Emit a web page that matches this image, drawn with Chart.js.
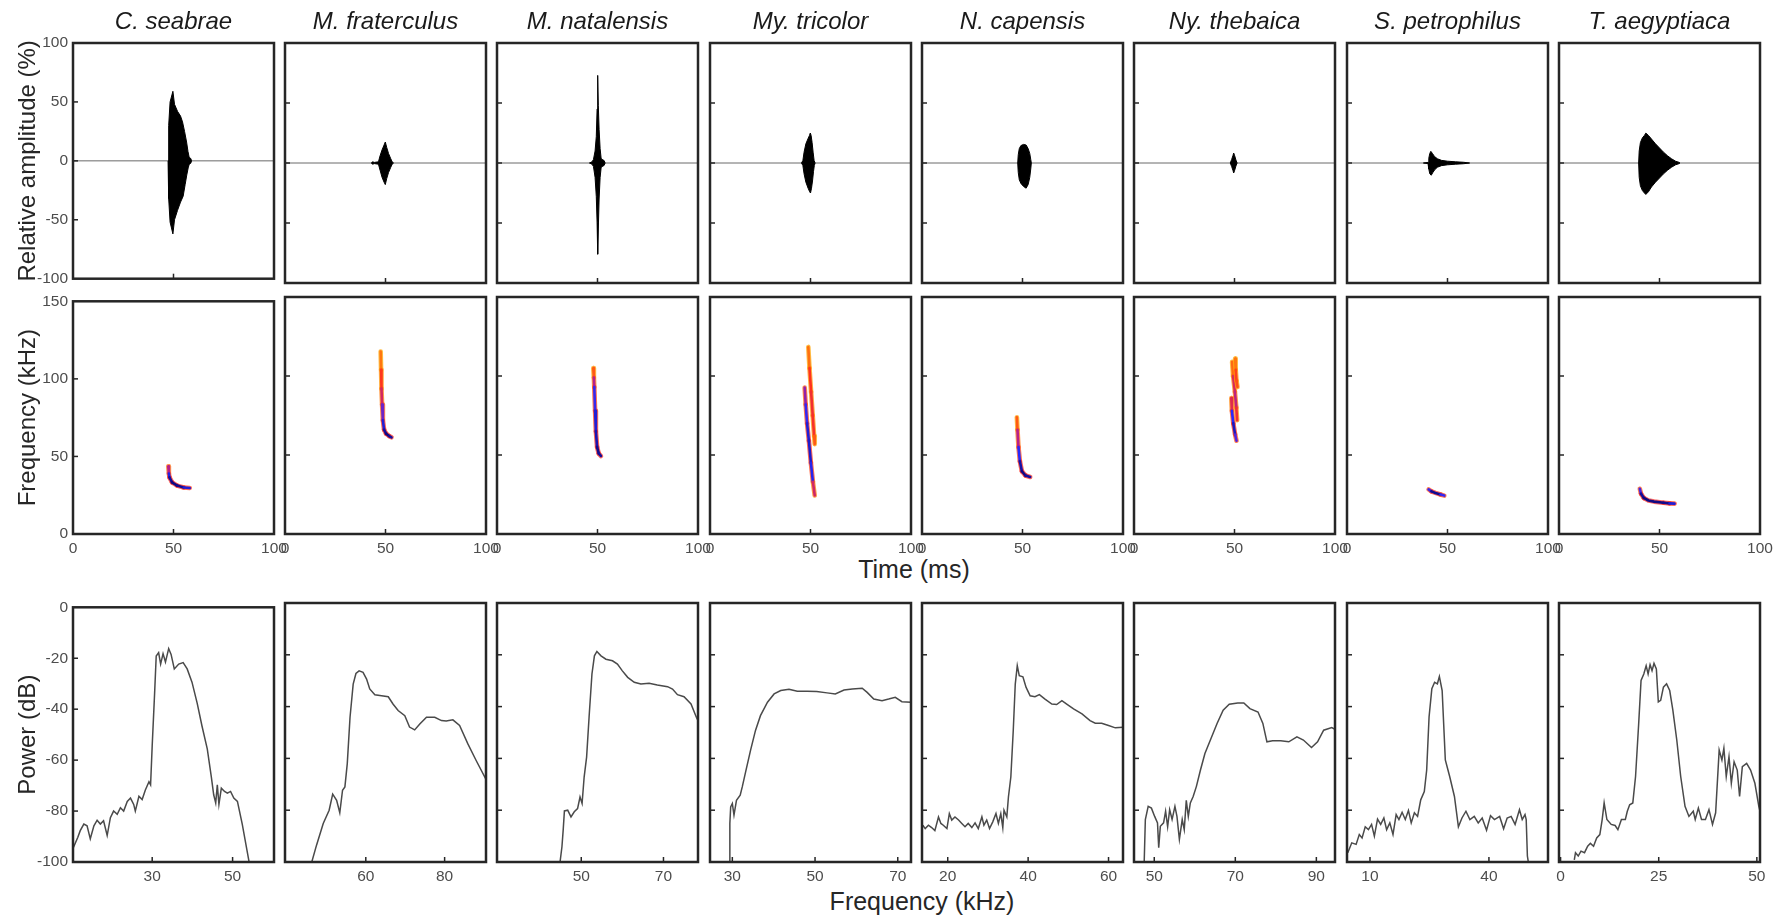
<!DOCTYPE html>
<html>
<head>
<meta charset="utf-8">
<script src="https://cdn.jsdelivr.net/npm/chart.js@4.4.1/dist/chart.umd.min.js"></script>
<style>
  html, body { margin: 0; background: #fff; }
  #fig { position: relative; width: 1774px; height: 918px; overflow: hidden; background: #fff; }
  #fig canvas { position: absolute; }
  .xlabel { position: absolute; font: 25px 'Liberation Sans', Arial, sans-serif; color: #262626;
            transform: translate(-50%, -50%); white-space: nowrap; }
</style>
</head>
<body>
<div id="fig">
  <div class="xlabel" style="left:914px; top:569px">Time (ms)</div>
  <div class="xlabel" style="left:922px; top:901px">Frequency (kHz)</div>
</div>
<script>
const species = ['C. seabrae', 'M. fraterculus', 'M. natalensis', 'My. tricolor',
                 'N. capensis', 'Ny. thebaica', 'S. petrophilus', 'T. aegyptiaca'];

// oscillogram envelopes, [time ms, amplitude %]
const seabraeUp = [[47.3,0],[47.6,30],[48.3,50],[49.7,59],[50.5,48],[52,42],[53.5,38],[54.5,33],[55.5,25],[56.5,16],[57.2,8],[57.8,3],[58.6,2],[59,0]];
const seabraeLo = [[47.3,0],[47.6,-32],[48.3,-52],[49.7,-62],[50.5,-50],[52,-42],[53.5,-35],[54.8,-30],[55.8,-20],[56.6,-12],[57.3,-6],[57.8,-3],[58.6,-2],[59,0]];
const fraterculusUp = [[43,0],[43.5,1],[44.5,0.5],[46.5,1],[47.3,6],[48.3,11],[49.3,15],[49.9,17.5],[50.6,13],[51.5,8],[52.5,4],[53.3,1],[54,0]];
const fraterculusLo = [[43,0],[43.5,-1],[44.5,-0.5],[46.5,-1],[47.3,-6],[48.3,-12],[49.3,-16],[49.9,-18],[50.6,-13],[51.5,-8],[52.5,-4],[53.3,-1],[54,0]];
const natalensisUp = [[46,0],[47.3,1],[48,3],[48.8,10],[49.4,22],[49.8,45],[50.1,73],[50.4,48],[50.8,28],[51.3,12],[51.8,4],[52.3,3],[53.3,2],[53.8,0]];
const natalensisLo = [[46,0],[47.3,-1],[48,-3],[48.8,-12],[49.4,-28],[49.8,-50],[50.1,-76],[50.4,-55],[50.8,-30],[51.3,-12],[51.8,-4],[52.3,-3],[53.3,-2],[53.8,0]];
const tricolorUp = [[45.5,0],[46.2,2],[46.8,9],[47.7,16],[48.7,20],[49.5,23],[49.9,25],[50.3,23],[50.8,17],[51.3,9],[51.8,2],[52.3,0]];
const tricolorLo = [[45.5,0],[46.2,-2],[46.8,-9],[47.7,-16],[48.8,-21],[49.6,-24],[50,-25],[50.5,-21],[51,-15],[51.5,-7],[51.9,-2],[52.3,0]];
const capensisUp = [[47.6,0],[47.9,7],[48.4,12],[49.2,14.5],[50.5,15.5],[51.8,15],[52.8,12],[53.6,8],[54.1,3],[54.4,0]];
const capensisLo = [[47.6,0],[47.9,-8],[48.4,-14],[49.2,-17],[50.5,-19.5],[51.8,-21],[52.8,-18],[53.6,-12],[54.1,-5],[54.4,0]];
const thebaicaUp = [[47.9,0],[48.6,3],[49.2,6],[49.6,8.3],[50.1,6],[50.7,2.5],[51.3,0]];
const thebaicaLo = [[47.9,0],[48.6,-3],[49.2,-6],[49.6,-8.3],[50.1,-6],[50.7,-2.5],[51.3,0]];
const petrophilusUp = [[38,0],[40.3,0.5],[40.7,4],[41.2,8],[41.7,9.7],[42.5,8],[43.5,5.5],[45,3.5],[47,2.2],[50,1.5],[54,1],[58,0.6],[61,0]];
const petrophilusLo = [[38,0],[40.3,-0.5],[40.7,-5],[41.2,-9],[41.9,-10.2],[42.7,-8],[43.7,-5.5],[45,-3.5],[47,-2.2],[50,-1.5],[54,-1],[58,-0.6],[61,0]];
const aegyptiacaUp = [[39.6,0],[39.9,10],[40.5,17],[41.5,21],[42.5,23],[43.2,24.9],[44.5,23],[46,20],[48,16],[50,12.5],[52,9],[54,6],[56,3.5],[58,1.5],[59.8,0.5],[60.2,0]];
const aegyptiacaLo = [[39.6,0],[39.9,-12],[40.5,-19],[41.5,-23],[42.5,-25],[43.2,-26.2],[44.5,-24],[46,-20],[48,-16],[50,-12.5],[52,-9],[54,-6],[56,-3.5],[58,-1.5],[59.8,-0.5],[60.2,0]];
const baseline = [[0,0],[100,0]];

// spectrogram traces, [time ms, frequency kHz, relative energy 0..1]
const seabraeTracks = [[[47.4,43.6,0.75],[47.7,39,0.3],[48,36.5,0.1],[49.3,33.3,0],[51.8,31.2,0],[55.1,30,0.05],[58.1,29.7,0.3]]];
const fraterculusTracks = [[[47.6,115.5,0.95],[47.8,104,0.8],[48,92,0.72],[48.3,82,0.5],[48.7,72,0.25],[49.3,66,0.1],[50.3,63.5,0],[51.8,62,0],[53,61.2,0.1]]];
const natalensisTracks = [[[47.9,105,0.95],[48.2,99,0.7],[48.4,93,0.35],[48.8,78,0.2],[49.2,65,0.15],[49.8,55,0.05],[50.6,51,0],[51.7,49.4,0.1]]];
const tricolorTracks = [
  [[47.1,92.7,0.55],[47.6,82,0.35],[48.3,70,0.2],[49.2,59,0.15],[50.2,45,0.15],[51.2,33,0.3],[52.1,24.4,0.9]],
  [[48.9,118.4,0.95],[49.5,105,0.78],[50.3,90,0.72],[51.1,75,0.7],[51.8,62,0.75],[52.1,56.9,0.9]]
];
const capensisTracks = [[[47.2,73.9,0.95],[47.5,66,0.7],[48,55,0.35],[48.7,46,0.15],[49.7,39.7,0],[51.5,37,0],[53.8,36.1,0.1]]];
const thebaicaTracks = [
  [[50.3,111,0.95],[50.6,104,0.8],[51,97,0.75],[51.5,93,0.85]],
  [[48.8,109,0.95],[49.3,100,0.75],[50.2,90,0.5],[50.9,80,0.6],[51.3,72,0.8]],
  [[48.4,86,0.9],[48.7,78,0.4],[49.4,70,0.1],[50.3,63,0.15],[51,59,0.5]]
];
const petrophilusTracks = [[[40.6,28.2,0.5],[42,27,0.05],[44,26,0],[46.5,25,0.05],[48.4,24.3,0.5]]];
const aegyptiacaTracks = [[[40.2,28.6,0.5],[40.8,25.5,0.1],[42.2,22.8,0],[44.5,21.2,0],[47.3,20.5,0],[52,19.8,0],[55,19.4,0.05],[57.5,19.2,0.3]]];

// power spectra, [frequency kHz, dB]
const seabraeSpec = [[10.3,-94.7],[11.5,-90.3],[12.1,-87.7],[13,-85.1],[13.8,-85.8],[14.6,-90.9],[15.5,-85.8],[16.3,-83.6],[17.1,-85.1],[17.9,-83.8],[18.8,-89.6],[19.6,-82.6],[20.4,-80],[21.3,-81.3],[22.1,-78.7],[22.9,-80],[23.8,-76.2],[24.6,-74.9],[25.4,-77.4],[25.8,-80],[26.7,-74.2],[27.5,-75.5],[28.3,-71.7],[29.2,-68.5],[29.6,-69.7],[30,-54.4],[30.6,-33.8],[31,-19.1],[31.6,-17.8],[32.1,-22.3],[32.7,-18.2],[33.3,-21.5],[34.1,-16.2],[34.7,-18.5],[35.5,-24.2],[36.6,-22.3],[37.7,-21.7],[38.7,-24.2],[39.9,-29.4],[41.2,-37.7],[42.4,-46.7],[43.7,-55.6],[44.7,-66.5],[45.3,-73.6],[45.8,-76.8],[46.2,-69.7],[46.6,-77.4],[47.2,-71],[48,-72.3],[48.7,-73],[49.5,-72.3],[50.3,-74.9],[51.2,-76.2],[52.4,-85.1],[54.1,-99.9],[54.4,-104]];
const fraterculusSpec = [[46.2,-100.5],[47.5,-93.5],[49.2,-85.1],[50.7,-80],[51.6,-73.8],[52.6,-76.2],[53.4,-81],[54.1,-72.3],[54.7,-71],[55.3,-62],[56,-44.1],[56.8,-31.3],[57.5,-27.2],[58.3,-26.2],[59.3,-26.8],[60.2,-29.4],[61,-33.2],[62.3,-35.4],[64,-35.8],[65.7,-36.2],[66.9,-39],[68.2,-41.5],[69.9,-43.5],[71.1,-47.9],[72.4,-49],[73.7,-46.7],[75.4,-44.1],[77.5,-44.1],[79.2,-45.4],[80.4,-45.6],[82.1,-45.1],[83.8,-47.3],[85.9,-54.4],[88,-60.8],[90.4,-67.8],[91,-69]];
const natalensisSpec = [[44.8,-100.5],[45.3,-94.1],[45.6,-87.7],[45.9,-80.3],[46.7,-80],[47.5,-82.6],[48.3,-80.6],[49.1,-79.4],[49.7,-74.9],[50.2,-77.4],[50.7,-67.2],[51.3,-59.5],[51.9,-44.1],[52.6,-27.4],[53.2,-20.4],[53.8,-18.7],[54.8,-20.4],[56,-21.7],[57.6,-22.3],[58.8,-23.6],[60,-26.2],[61.3,-28.7],[62.9,-30.6],[64.5,-31.3],[66.5,-31],[68.5,-31.7],[71,-32.3],[72.2,-33.2],[73.4,-35.4],[75,-36.2],[76.7,-39],[78,-44.1],[78.6,-46]];
const tricolorSpec = [[29.4,-100.5],[29.4,-85.1],[29.6,-78.7],[30,-77.4],[30.4,-81.9],[31,-76.2],[31.9,-74.2],[32.4,-71],[33.2,-65.3],[34.4,-56.9],[35.6,-49.2],[36.8,-43.5],[38.5,-38.3],[40.1,-35.1],[41.7,-33.8],[43.7,-33.3],[45.7,-34.1],[48.1,-34.1],[50.4,-34.2],[52.9,-34.7],[54.9,-35.1],[57,-33.6],[59,-33.2],[61.4,-32.9],[62.6,-34.5],[64.2,-37.1],[66.2,-37.7],[67.8,-37.1],[69.4,-36.4],[71,-38.1],[73.3,-38.3]];
const capensisSpec = [[13.8,-85.8],[14.4,-87.1],[15.2,-85.8],[16,-86.7],[16.8,-87.9],[17.7,-82.6],[18.3,-85.1],[18.9,-85.8],[19.8,-87.1],[20.4,-81.3],[21,-83.8],[21.8,-82.6],[22.7,-83.8],[23.5,-85.1],[24.3,-86.4],[25.1,-85.1],[26,-86.7],[26.8,-84.9],[27.6,-87.1],[28.5,-82.6],[29,-85.8],[29.7,-83.8],[30.4,-87.1],[31.2,-84.5],[32,-81.3],[32.6,-85.1],[33.2,-81.3],[33.7,-86.7],[34,-80],[34.7,-82.6],[35.1,-74.9],[35.7,-67.2],[36.3,-49.2],[36.8,-31.3],[37.3,-24.2],[37.8,-28.1],[38.7,-28.5],[39.5,-32.6],[40.5,-35.8],[41.7,-36.2],[42.8,-35.4],[44.2,-37.1],[45.9,-39],[47.1,-39.2],[48.4,-37.7],[49.6,-39],[51.3,-40.9],[53.4,-42.8],[55.4,-45.4],[56.7,-46.4],[58.3,-46.4],[60,-47.3],[61.7,-48.2],[63.6,-48]];
const thebaicaSpec = [[47.5,-101],[47.8,-83.6],[48.5,-78.5],[49.3,-79.2],[50.1,-82.4],[50.8,-84.9],[51.1,-94.5],[51.5,-86.2],[52.3,-84.9],[52.8,-80.4],[53.3,-86.4],[53.8,-79.8],[54.4,-83.6],[55.1,-78.5],[55.6,-82.4],[56.2,-91.3],[56.9,-83.6],[57.4,-87.5],[57.9,-76.2],[58.4,-82.4],[58.9,-77.2],[59.6,-74.7],[60.4,-70.8],[61.4,-64.5],[62.5,-58.1],[64,-52.3],[65.5,-46.5],[67,-41.4],[68.5,-39.1],[70.6,-38.6],[72.1,-38.6],[73.6,-40.8],[75.6,-42.1],[76.8,-46.5],[77.8,-53.6],[79.2,-53.2],[81.2,-53.2],[83.2,-53.6],[85.2,-51.7],[86.8,-52.9],[88.8,-55.8],[90.3,-53.6],[91.8,-49.1],[93.8,-48.1],[94.6,-48.8]];
const petrophilusSpec = [[4.4,-96.4],[5.4,-92.6],[6.5,-93.2],[7.3,-89.4],[8,-90.7],[8.8,-86.4],[9.6,-87.5],[10.4,-85.5],[11.1,-90],[11.9,-83.4],[12.7,-85.5],[13.5,-83],[14.2,-87.5],[15,-84.9],[15.8,-89.4],[16.6,-81.7],[17.3,-83.6],[18.1,-80.8],[18.9,-83.6],[19.7,-80.1],[20.4,-84.9],[21.2,-81],[22,-82.4],[22.8,-76],[23.7,-72.8],[24.3,-64.5],[24.9,-44],[25.6,-33.1],[26.3,-30.6],[27,-31.2],[27.5,-28.4],[28.2,-33.8],[29,-60.6],[30.1,-67],[31.3,-74.7],[32.3,-86.4],[33.2,-83],[34.2,-80.4],[35.2,-83.6],[36.3,-82.4],[37.3,-84.9],[38.3,-83],[39.4,-87.7],[40.4,-82.1],[41.4,-83.6],[42.7,-82.4],[43.7,-87.2],[44.6,-83],[45.6,-82.4],[46.6,-85.5],[47.7,-79.8],[48.4,-83.6],[49.1,-81.7],[49.4,-83.6],[49.7,-97.7],[50.1,-101.5]];
const aegyptiacaSpec = [[3.5,-99.2],[3.8,-96.4],[4.5,-97.7],[5.2,-95.8],[6.1,-96.4],[6.9,-93.9],[7.6,-92.8],[8.4,-93.9],[9.2,-90.7],[10,-89.4],[10.6,-83.6],[11.1,-77.2],[11.8,-83.6],[12.9,-85.5],[13.9,-85.9],[14.6,-87.5],[15.5,-83.6],[16.5,-83.6],[17,-80.4],[17.6,-77.9],[18.4,-77.2],[19.1,-67],[19.9,-46.5],[20.5,-29.9],[21.2,-27.4],[21.8,-24.2],[22.3,-27.4],[22.8,-23.8],[23.3,-26.1],[23.8,-23.3],[24.4,-25.5],[24.9,-38.2],[25.5,-37.6],[26.2,-32.5],[27,-31.2],[27.8,-33.8],[28.6,-41.4],[29.6,-52.9],[30.6,-67],[31.7,-78.5],[32.7,-82.4],[33.8,-80.4],[34.3,-83.6],[35.1,-79.2],[35.9,-83.6],[36.9,-83.6],[37.8,-79.8],[38.7,-85.5],[39.5,-81],[40.4,-56.8],[41.1,-60.6],[41.6,-56.1],[42.2,-67],[42.9,-59.3],[43.5,-69.6],[44.2,-61.3],[45,-64.5],[45.6,-74.7],[46.3,-63.2],[47.4,-61.9],[48.4,-64.5],[49.5,-69.6],[50.5,-78.5],[50.9,-81]];

const envUp = [seabraeUp, fraterculusUp, natalensisUp, tricolorUp, capensisUp, thebaicaUp, petrophilusUp, aegyptiacaUp];
const envLo = [seabraeLo, fraterculusLo, natalensisLo, tricolorLo, capensisLo, thebaicaLo, petrophilusLo, aegyptiacaLo];
const tracks = [seabraeTracks, fraterculusTracks, natalensisTracks, tricolorTracks, capensisTracks, thebaicaTracks, petrophilusTracks, aegyptiacaTracks];
const spectra = [seabraeSpec, fraterculusSpec, natalensisSpec, tricolorSpec, capensisSpec, thebaicaSpec, petrophilusSpec, aegyptiacaSpec];

// frequency axis of each spectrum panel
const specMin = [10.3, 39.5, 29.5, 24.6, 13.6, 45, 4.2, -0.4];
const specMax = [60.3, 90.5, 78.4, 73.2, 63.6, 94.6, 54.9, 50.8];
const specTicks = [[30, 50], [60, 80], [50, 70], [30, 50, 70], [20, 40, 60], [50, 70, 90], [10, 40], [0, 25, 50]];

const timeTicksTop = [50];
const timeTicks = [0, 50, 100];
const ampTicks = [-100, -50, 0, 50, 100];
const freqTicks = [0, 50, 100, 150];
const powerTicks = [-100, -80, -60, -40, -20, 0];
const rowTitles = ['Relative amplitude (%)', 'Frequency (kHz)', 'Power (dB)'];

const FONT = "'Liberation Sans', Arial, sans-serif";
const PANEL_W = 201;
const rows = [{ top: 43, h: 240 }, { top: 297, h: 237 }, { top: 603, h: 259 }];
const colX = i => Math.round(72.7 + 212.3 * i);
const fig = document.getElementById('fig');

const toXY = arr => arr.map(p => ({ x: p[0], y: p[1] }));

// hot-to-cold palette for the spectrogram traces
const heatStops = [[0, [16, 8, 130]], [0.25, [40, 40, 250]], [0.5, [175, 30, 150]], [0.75, [255, 50, 30]], [1, [255, 185, 0]]];
function heatColor(h, a) {
  h = Math.max(0, Math.min(1, h));
  for (let i = 1; i < heatStops.length; i++) {
    if (h <= heatStops[i][0]) {
      const [h0, c0] = heatStops[i - 1], [h1, c1] = heatStops[i];
      const k = (h - h0) / (h1 - h0);
      const c = c0.map((v, j) => Math.round(v + (c1[j] - v) * k));
      return `rgba(${c[0]},${c[1]},${c[2]},${a})`;
    }
  }
  return `rgba(255,185,0,${a})`;
}

// box frame + inward tick marks
const framePlugin = {
  id: 'frame',
  afterDraw(chart) {
    const { ctx, chartArea: a, scales } = chart;
    ctx.save();
    ctx.strokeStyle = '#262626';
    ctx.lineWidth = 1.5;
    const x = scales.x, y = scales.y;
    x.ticks.forEach(t => {
      if (t.value <= x.min || t.value >= x.max) return;
      const px = x.getPixelForValue(t.value);
      ctx.beginPath(); ctx.moveTo(px, a.bottom); ctx.lineTo(px, a.bottom - 5); ctx.stroke();
    });
    y.ticks.forEach(t => {
      if (t.value <= y.min || t.value >= y.max) return;
      const py = y.getPixelForValue(t.value);
      ctx.beginPath(); ctx.moveTo(a.left, py); ctx.lineTo(a.left + 5, py); ctx.stroke();
    });
    ctx.lineWidth = 2.5;
    ctx.strokeRect(a.left, a.top, a.right - a.left, a.bottom - a.top);
    ctx.restore();
  }
};

function axis(min, max, ticks, showLabels, fit) {
  return {
    type: 'linear', min, max,
    afterBuildTicks: a => { a.ticks = ticks.map(v => ({ value: v })); },
    afterFit: fit,
    grid: { display: false, drawTicks: false },
    border: { display: false },
    ticks: { display: showLabels, autoSkip: false, maxRotation: 0, padding: 5,
             color: '#4d4d4d', font: { family: FONT, size: 15.5 } }
  };
}

function makePanel(row, col, datasets, xr, yr) {
  const g = rows[row];
  const padL = col === 0 ? 60 : 12, padR = 20;
  const padT = row === 0 ? 4 : 10;
  const titleH = row === 0 ? 35 : 0;
  const padB = row === 0 ? 10 : 30;
  const w = padL + PANEL_W + padR, h = titleH + padT + g.h + padB;
  const cv = document.createElement('canvas');
  cv.width = w; cv.height = h;
  cv.style.width = w + 'px'; cv.style.height = h + 'px';
  cv.style.left = (colX(col) - padL) + 'px';
  cv.style.top = (g.top - padT - titleH) + 'px';
  fig.appendChild(cv);

  const xAxis = axis(xr.min, xr.max, xr.ticks, row > 0, a => { a.height = padB; });
  const yAxis = axis(yr.min, yr.max, yr.ticks, col === 0, a => { a.width = padL; });
  if (col === 0) {
    yAxis.title = { display: true, text: rowTitles[row], color: '#262626',
                    font: { family: FONT, size: 24 }, padding: { top: 1, bottom: 0 } };
  }

  new Chart(cv, {
    type: 'line',
    data: { datasets },
    options: {
      responsive: false, animation: false, devicePixelRatio: 1,
      layout: { padding: { top: padT, right: padR, left: 0, bottom: 0 } },
      elements: { point: { radius: 0 }, line: { tension: 0 } },
      plugins: {
        legend: { display: false },
        tooltip: { enabled: false },
        title: row === 0 ? {
          display: true, text: species[col], fullSize: false, color: '#1a1a1a',
          font: { family: FONT, size: 24, style: 'italic', weight: 'normal' },
          padding: { top: 0, bottom: 6.2 }
        } : { display: false }
      },
      scales: { x: xAxis, y: yAxis }
    },
    plugins: [framePlugin]
  });
}

for (let c = 0; c < 8; c++) {
  // waveform
  makePanel(0, c, [
    { data: toXY(envUp[c]), fill: '+1', backgroundColor: '#000', borderColor: '#000', borderWidth: 1 },
    { data: toXY(envLo[c]), fill: false, borderColor: '#000', borderWidth: 1 },
    { data: toXY(baseline), fill: false, borderColor: '#6a6a6a', borderWidth: 1 }
  ], { min: 0, max: 100, ticks: timeTicksTop }, { min: -100, max: 100, ticks: ampTicks });

  // spectrogram traces: thin warm fringe under a coloured core
  const ds = [];
  tracks[c].forEach(tr => {
    const pts = tr.map(p => ({ x: p[0], y: p[1] }));
    const heat = s => (tr[s.p0DataIndex][2] + tr[s.p1DataIndex][2]) / 2;
    ds.push({
      data: pts, fill: false, borderWidth: 2.6, borderCapStyle: 'round', borderJoinStyle: 'round',
      borderColor: heatColor(0, 1),
      segment: { borderColor: s => heatColor(heat(s), 1) }
    });
    ds.push({
      data: pts, fill: false, borderWidth: 4.6, borderCapStyle: 'round', borderJoinStyle: 'round',
      borderColor: heatColor(0.75, 0.8),
      segment: { borderColor: s => heatColor(0.72 + heat(s) * 0.28, 0.75) }
    });
  });
  makePanel(1, c, ds, { min: 0, max: 100, ticks: timeTicks }, { min: 0, max: 150, ticks: freqTicks });

  // power spectrum
  makePanel(2, c, [
    { data: toXY(spectra[c]), fill: false, borderColor: '#4a4a4a', borderWidth: 1.5 }
  ], { min: specMin[c], max: specMax[c], ticks: specTicks[c] }, { min: -100, max: 0, ticks: powerTicks });
}
</script>
</body>
</html>
